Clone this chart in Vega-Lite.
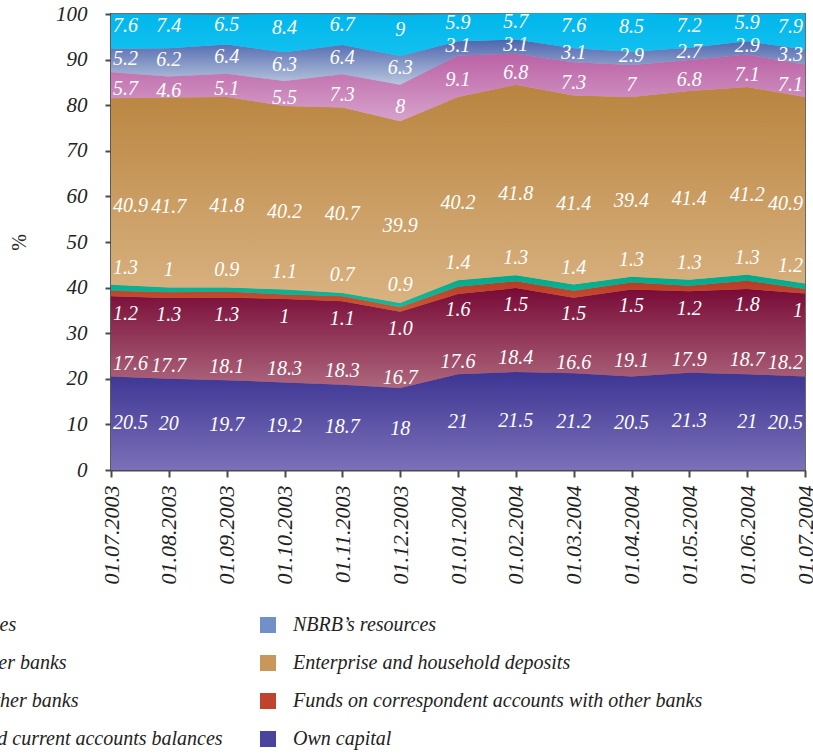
{
  "$schema": "https://vega.github.io/schema/vega-lite/v6.json",
  "autosize": {"type": "none"},
  "width": 694,
  "height": 456,
  "padding": {"left": 111, "top": 14, "right": 8, "bottom": 284},
  "background": "white",
  "config": {
    "view": {"stroke": "#6b6b6b", "strokeWidth": 2},
    "axis": {
      "domainColor": "#4a4a4a", "domainWidth": 2, "tickColor": "#4a4a4a", "tickWidth": 2, "tickSize": 6,
      "labelFont": "Liberation Serif", "labelFontStyle": "italic", "labelFontSize": 21, "labelColor": "#222222",
      "grid": false
    },
    "legend": {
      "labelFont": "Liberation Serif", "labelFontStyle": "italic", "labelFontSize": 20, "labelColor": "#222222",
      "labelLimit": 1000, "symbolType": "square", "symbolSize": 256, "symbolStrokeWidth": 0
    }
  },
  "data": {"values": [
    {"date": "2003-07-01", "series": "Other liabilities", "value": 7.6},
    {"date": "2003-08-01", "series": "Other liabilities", "value": 7.4},
    {"date": "2003-09-01", "series": "Other liabilities", "value": 6.5},
    {"date": "2003-10-01", "series": "Other liabilities", "value": 8.4},
    {"date": "2003-11-01", "series": "Other liabilities", "value": 6.7},
    {"date": "2003-12-01", "series": "Other liabilities", "value": 9},
    {"date": "2004-01-01", "series": "Other liabilities", "value": 5.9},
    {"date": "2004-02-01", "series": "Other liabilities", "value": 5.7},
    {"date": "2004-03-01", "series": "Other liabilities", "value": 7.6},
    {"date": "2004-04-01", "series": "Other liabilities", "value": 8.5},
    {"date": "2004-05-01", "series": "Other liabilities", "value": 7.2},
    {"date": "2004-06-01", "series": "Other liabilities", "value": 5.9},
    {"date": "2004-07-01", "series": "Other liabilities", "value": 7.9},

    {"date": "2003-07-01", "series": "NBRB’s resources", "value": 5.2},
    {"date": "2003-08-01", "series": "NBRB’s resources", "value": 6.2},
    {"date": "2003-09-01", "series": "NBRB’s resources", "value": 6.4},
    {"date": "2003-10-01", "series": "NBRB’s resources", "value": 6.3},
    {"date": "2003-11-01", "series": "NBRB’s resources", "value": 6.4},
    {"date": "2003-12-01", "series": "NBRB’s resources", "value": 6.3},
    {"date": "2004-01-01", "series": "NBRB’s resources", "value": 3.1},
    {"date": "2004-02-01", "series": "NBRB’s resources", "value": 3.1},
    {"date": "2004-03-01", "series": "NBRB’s resources", "value": 3.1},
    {"date": "2004-04-01", "series": "NBRB’s resources", "value": 2.9},
    {"date": "2004-05-01", "series": "NBRB’s resources", "value": 2.7},
    {"date": "2004-06-01", "series": "NBRB’s resources", "value": 2.9},
    {"date": "2004-07-01", "series": "NBRB’s resources", "value": 3.3},

    {"date": "2003-07-01", "series": "Credits of other banks", "value": 5.7},
    {"date": "2003-08-01", "series": "Credits of other banks", "value": 4.6},
    {"date": "2003-09-01", "series": "Credits of other banks", "value": 5.1},
    {"date": "2003-10-01", "series": "Credits of other banks", "value": 5.5},
    {"date": "2003-11-01", "series": "Credits of other banks", "value": 7.3},
    {"date": "2003-12-01", "series": "Credits of other banks", "value": 8},
    {"date": "2004-01-01", "series": "Credits of other banks", "value": 9.1},
    {"date": "2004-02-01", "series": "Credits of other banks", "value": 6.8},
    {"date": "2004-03-01", "series": "Credits of other banks", "value": 7.3},
    {"date": "2004-04-01", "series": "Credits of other banks", "value": 7},
    {"date": "2004-05-01", "series": "Credits of other banks", "value": 6.8},
    {"date": "2004-06-01", "series": "Credits of other banks", "value": 7.1},
    {"date": "2004-07-01", "series": "Credits of other banks", "value": 7.1},

    {"date": "2003-07-01", "series": "Enterprise and household deposits", "value": 40.9},
    {"date": "2003-08-01", "series": "Enterprise and household deposits", "value": 41.7},
    {"date": "2003-09-01", "series": "Enterprise and household deposits", "value": 41.8},
    {"date": "2003-10-01", "series": "Enterprise and household deposits", "value": 40.2},
    {"date": "2003-11-01", "series": "Enterprise and household deposits", "value": 40.7},
    {"date": "2003-12-01", "series": "Enterprise and household deposits", "value": 39.9},
    {"date": "2004-01-01", "series": "Enterprise and household deposits", "value": 40.2},
    {"date": "2004-02-01", "series": "Enterprise and household deposits", "value": 41.8},
    {"date": "2004-03-01", "series": "Enterprise and household deposits", "value": 41.4},
    {"date": "2004-04-01", "series": "Enterprise and household deposits", "value": 39.4},
    {"date": "2004-05-01", "series": "Enterprise and household deposits", "value": 41.4},
    {"date": "2004-06-01", "series": "Enterprise and household deposits", "value": 41.2},
    {"date": "2004-07-01", "series": "Enterprise and household deposits", "value": 40.9},

    {"date": "2003-07-01", "series": "Deposits of other banks", "value": 1.3},
    {"date": "2003-08-01", "series": "Deposits of other banks", "value": 1},
    {"date": "2003-09-01", "series": "Deposits of other banks", "value": 0.9},
    {"date": "2003-10-01", "series": "Deposits of other banks", "value": 1.1},
    {"date": "2003-11-01", "series": "Deposits of other banks", "value": 0.7},
    {"date": "2003-12-01", "series": "Deposits of other banks", "value": 0.9},
    {"date": "2004-01-01", "series": "Deposits of other banks", "value": 1.4},
    {"date": "2004-02-01", "series": "Deposits of other banks", "value": 1.3},
    {"date": "2004-03-01", "series": "Deposits of other banks", "value": 1.4},
    {"date": "2004-04-01", "series": "Deposits of other banks", "value": 1.3},
    {"date": "2004-05-01", "series": "Deposits of other banks", "value": 1.3},
    {"date": "2004-06-01", "series": "Deposits of other banks", "value": 1.3},
    {"date": "2004-07-01", "series": "Deposits of other banks", "value": 1.2},

    {"date": "2003-07-01", "series": "Funds on correspondent accounts with other banks", "value": 1.2},
    {"date": "2003-08-01", "series": "Funds on correspondent accounts with other banks", "value": 1.3},
    {"date": "2003-09-01", "series": "Funds on correspondent accounts with other banks", "value": 1.3},
    {"date": "2003-10-01", "series": "Funds on correspondent accounts with other banks", "value": 1},
    {"date": "2003-11-01", "series": "Funds on correspondent accounts with other banks", "value": 1.1},
    {"date": "2003-12-01", "series": "Funds on correspondent accounts with other banks", "value": 1.0, "label": "1.0"},
    {"date": "2004-01-01", "series": "Funds on correspondent accounts with other banks", "value": 1.6},
    {"date": "2004-02-01", "series": "Funds on correspondent accounts with other banks", "value": 1.5},
    {"date": "2004-03-01", "series": "Funds on correspondent accounts with other banks", "value": 1.5},
    {"date": "2004-04-01", "series": "Funds on correspondent accounts with other banks", "value": 1.5},
    {"date": "2004-05-01", "series": "Funds on correspondent accounts with other banks", "value": 1.2},
    {"date": "2004-06-01", "series": "Funds on correspondent accounts with other banks", "value": 1.8},
    {"date": "2004-07-01", "series": "Funds on correspondent accounts with other banks", "value": 1},

    {"date": "2003-07-01", "series": "Budgetary and current accounts balances", "value": 17.6},
    {"date": "2003-08-01", "series": "Budgetary and current accounts balances", "value": 17.7},
    {"date": "2003-09-01", "series": "Budgetary and current accounts balances", "value": 18.1},
    {"date": "2003-10-01", "series": "Budgetary and current accounts balances", "value": 18.3},
    {"date": "2003-11-01", "series": "Budgetary and current accounts balances", "value": 18.3},
    {"date": "2003-12-01", "series": "Budgetary and current accounts balances", "value": 16.7},
    {"date": "2004-01-01", "series": "Budgetary and current accounts balances", "value": 17.6},
    {"date": "2004-02-01", "series": "Budgetary and current accounts balances", "value": 18.4},
    {"date": "2004-03-01", "series": "Budgetary and current accounts balances", "value": 16.6},
    {"date": "2004-04-01", "series": "Budgetary and current accounts balances", "value": 19.1},
    {"date": "2004-05-01", "series": "Budgetary and current accounts balances", "value": 17.9},
    {"date": "2004-06-01", "series": "Budgetary and current accounts balances", "value": 18.7},
    {"date": "2004-07-01", "series": "Budgetary and current accounts balances", "value": 18.2},

    {"date": "2003-07-01", "series": "Own capital", "value": 20.5},
    {"date": "2003-08-01", "series": "Own capital", "value": 20},
    {"date": "2003-09-01", "series": "Own capital", "value": 19.7},
    {"date": "2003-10-01", "series": "Own capital", "value": 19.2},
    {"date": "2003-11-01", "series": "Own capital", "value": 18.7},
    {"date": "2003-12-01", "series": "Own capital", "value": 18},
    {"date": "2004-01-01", "series": "Own capital", "value": 21},
    {"date": "2004-02-01", "series": "Own capital", "value": 21.5},
    {"date": "2004-03-01", "series": "Own capital", "value": 21.2},
    {"date": "2004-04-01", "series": "Own capital", "value": 20.5},
    {"date": "2004-05-01", "series": "Own capital", "value": 21.3},
    {"date": "2004-06-01", "series": "Own capital", "value": 21},
    {"date": "2004-07-01", "series": "Own capital", "value": 20.5}
  ]},
  "transform": [
    {"calculate": "indexof(['Own capital','Budgetary and current accounts balances','Funds on correspondent accounts with other banks','Deposits of other banks','Enterprise and household deposits','Credits of other banks','NBRB’s resources','Other liabilities'], datum.series)", "as": "k"},
    {"stack": "value", "groupby": ["date"], "sort": [{"field": "k", "order": "ascending"}], "as": ["y0", "y1"]},
    {"calculate": "(datum.y0 + datum.y1) / 2", "as": "mid"},
    {"calculate": "isValid(datum.label) ? datum.label : toString(datum.value)", "as": "lbl"}
  ],
  "encoding": {
    "x": {
      "field": "date", "type": "ordinal", "sort": "ascending",
      "scale": {"type": "point", "padding": 0},
      "axis": {
        "title": null, "labelAngle": -90, "labelPadding": 8, "tickSize": 7, "labelFontSize": 22,
        "labelExpr": "slice(datum.value, 8, 10) + '.' + slice(datum.value, 5, 7) + '.' + slice(datum.value, 0, 4)"
      }
    },
    "y": {
      "field": "y1", "type": "quantitative",
      "scale": {"domain": [0, 100], "nice": false, "zero": true},
      "axis": {
        "title": "%", "titleFont": "Liberation Serif", "titleFontSize": 20, "titleFontWeight": "normal",
        "titleColor": "#222222", "titlePadding": 26, "values": [0, 10, 20, 30, 40, 50, 60, 70, 80, 90, 100],
        "labelPadding": 18
      }
    },
    "y2": {"field": "y0"}
  },
  "layer": [
    {
      "mark": {"type": "area"},
      "encoding": {
        "color": {
          "field": "series", "type": "nominal",
          "scale": {
            "domain": ["Other liabilities", "Credits of other banks", "Deposits of other banks", "Budgetary and current accounts balances", "NBRB’s resources", "Enterprise and household deposits", "Funds on correspondent accounts with other banks", "Own capital"],
            "range": ["#0bbbec", "#c57ab2", "#00a98c", "#8a2a4d", "#7190c8", "#c9975a", "#c0432e", "#4b449e"]
          },
          "legend": {
            "title": null, "orient": "none", "legendX": -257, "legendY": 601, "columns": 2,
            "columnPadding": 35, "rowPadding": 18, "labelOffset": 15
          }
        }
      }
    },
    {
      "transform": [{"filter": "datum.k === 0"}],
      "mark": {"type": "area", "color": {"gradient": "linear", "x1": 0, "y1": 0, "x2": 0, "y2": 1, "stops": [{"offset": 0, "color": "#3c3593"}, {"offset": 1, "color": "#7b70b8"}]}}
    },
    {
      "transform": [{"filter": "datum.k === 1"}],
      "mark": {"type": "area", "color": {"gradient": "linear", "x1": 0, "y1": 0, "x2": 0, "y2": 1, "stops": [{"offset": 0, "color": "#780a36"}, {"offset": 1, "color": "#ad677d"}]}}
    },
    {
      "transform": [{"filter": "datum.k === 2"}],
      "mark": {"type": "area", "color": {"gradient": "linear", "x1": 0, "y1": 0, "x2": 0, "y2": 1, "stops": [{"offset": 0, "color": "#b93a26"}, {"offset": 1, "color": "#cc5a35"}]}}
    },
    {
      "transform": [{"filter": "datum.k === 3"}],
      "mark": {"type": "area", "color": {"gradient": "linear", "x1": 0, "y1": 0, "x2": 0, "y2": 1, "stops": [{"offset": 0, "color": "#00a98a"}, {"offset": 1, "color": "#1db89b"}]}}
    },
    {
      "transform": [{"filter": "datum.k === 4"}],
      "mark": {"type": "area", "color": {"gradient": "linear", "x1": 0, "y1": 0, "x2": 0, "y2": 1, "stops": [{"offset": 0, "color": "#b9843f"}, {"offset": 1, "color": "#d9b382"}]}}
    },
    {
      "transform": [{"filter": "datum.k === 5"}],
      "mark": {"type": "area", "color": {"gradient": "linear", "x1": 0, "y1": 0, "x2": 0, "y2": 1, "stops": [{"offset": 0, "color": "#bb62a5"}, {"offset": 1, "color": "#d6a2cb"}]}}
    },
    {
      "transform": [{"filter": "datum.k === 6"}],
      "mark": {"type": "area", "color": {"gradient": "linear", "x1": 0, "y1": 0, "x2": 0, "y2": 1, "stops": [{"offset": 0, "color": "#4d65ad"}, {"offset": 1, "color": "#b9c6de"}]}}
    },
    {
      "transform": [{"filter": "datum.k === 7"}],
      "mark": {"type": "area", "color": {"gradient": "linear", "x1": 0, "y1": 0, "x2": 0, "y2": 1, "stops": [{"offset": 0, "color": "#00b6ec"}, {"offset": 1, "color": "#14c1ef"}]}}
    },
    {
      "mark": {
        "type": "text", "color": "white", "font": "Liberation Serif", "fontStyle": "italic", "fontSize": 20,
        "baseline": "middle",
        "align": {"expr": "datum.date === '2003-07-01' ? 'left' : (datum.date === '2004-07-01' ? 'right' : 'center')"},
        "dx": {"expr": "datum.date === '2003-07-01' ? 2 : (datum.date === '2004-07-01' ? -2 : 0)"},
        "dy": {"expr": "[0, 28, 20, -20, 14, 4, -2, -5][datum.k]"}
      },
      "encoding": {
        "y": {"field": "mid", "type": "quantitative"},
        "y2": null,
        "text": {"field": "lbl", "type": "nominal"}
      }
    }
  ]
}
